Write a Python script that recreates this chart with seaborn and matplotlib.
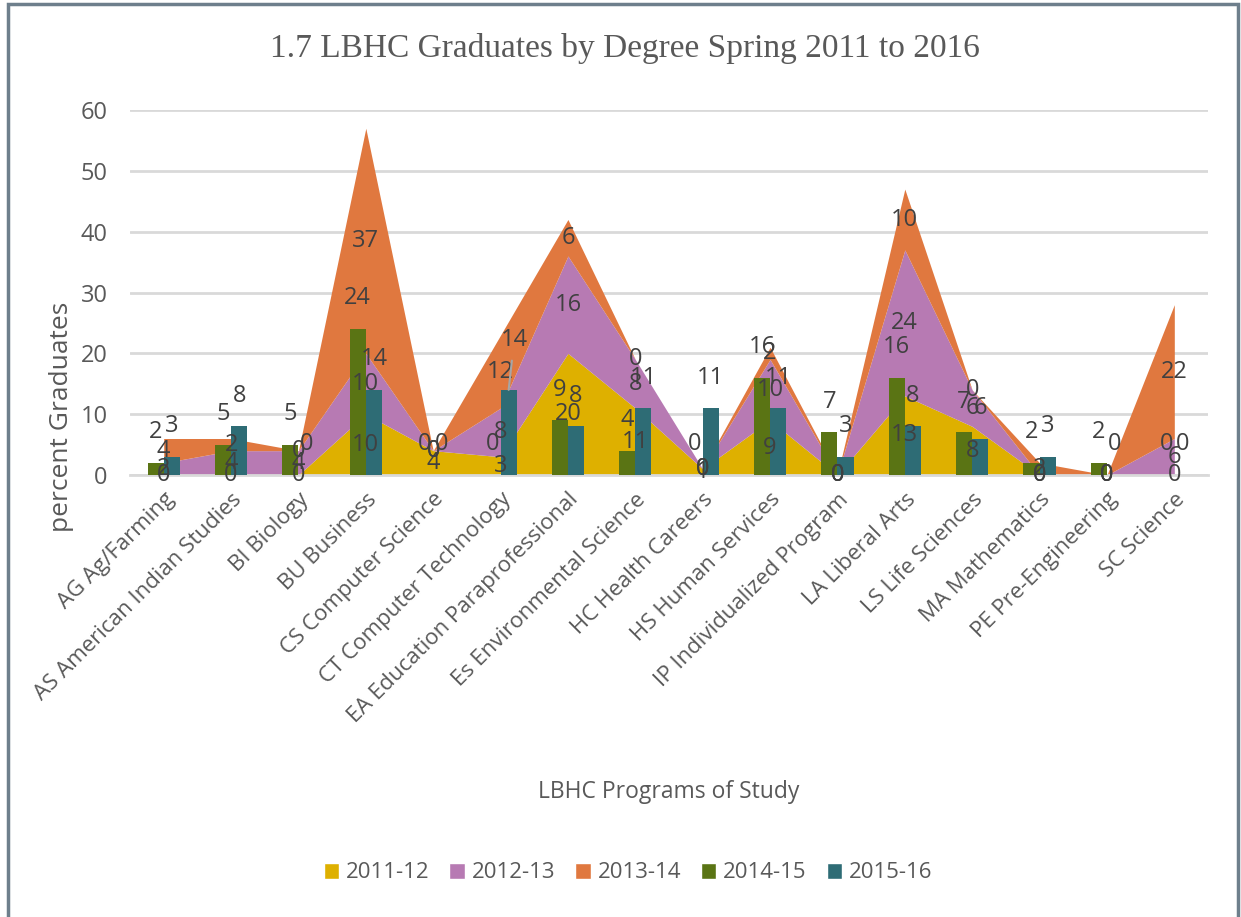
import matplotlib
matplotlib.use("Agg")
import matplotlib.pyplot as plt
import seaborn as sns
import numpy as np
import pandas as pd
from matplotlib.patches import Patch, Rectangle

programs = ["AG Ag/Farming", "AS American Indian Studies", "BI Biology", "BU Business",
            "CS Computer Science", "CT Computer Technology", "EA Education Paraprofessional",
            "Es Environmental Science", "HC Health Careers", "HS Human Services",
            "IP Individualized Program", "LA Liberal Arts", "LS Life Sciences",
            "MA Mathematics", "PE Pre-Engineering", "SC Science"]

# stacked area series
y2011_12 = [0, 0, 0, 10, 4, 3, 20, 11, 1, 9, 0, 13, 8, 0, 0, 0]
y2012_13 = [2, 4, 4, 10, 0, 8, 16, 8, 0, 10, 0, 24, 6, 0, 0, 6]
y2013_14 = [4, 2, 0, 37, 0, 12, 6, 0, 0, 2, 0, 10, 0, 2, 0, 22]
# bar series
y2014_15 = [2, 5, 5, 24, 0, 0, 9, 4, 0, 16, 7, 16, 7, 2, 2, 0]
y2015_16 = [3, 8, 0, 14, 0, 14, 8, 11, 11, 11, 3, 8, 6, 3, 0, 0]

area_years = ["2011-12", "2012-13", "2013-14"]
bar_years = ["2014-15", "2015-16"]
colors = {"2011-12": "#DEB000", "2012-13": "#B77AB3", "2013-14": "#E0783F",
          "2014-15": "#5A7414", "2015-16": "#2E6C75"}

sns.set_theme(style="white")
plt.rcParams["font.family"] = ["Open Sans", "DejaVu Sans"]

fig = plt.figure(figsize=(12.41, 9.17), dpi=100)
ax = fig.add_axes([130 / 1241, 1 - 475 / 917, 1078 / 1241, 365 / 917])

x = np.arange(len(programs))
areas = [y2011_12, y2012_13, y2013_14]
ax.stackplot(x, *areas, colors=[colors[y] for y in area_years], zorder=1, linewidth=0)

bars_df = pd.DataFrame({
    "program": programs * 2,
    "graduates": y2014_15 + y2015_16,
    "year": ["2014-15"] * len(programs) + ["2015-16"] * len(programs),
})
sns.barplot(data=bars_df, x="program", y="graduates", hue="year",
            palette=[colors[y] for y in bar_years], width=0.48, dodge=True,
            saturation=1, legend=False, ax=ax, zorder=3, linewidth=0, edgecolor="none")

ax.set_xlim(-0.5, len(programs) - 0.5)
ax.set_ylim(0, 60)
ax.set_yticks(range(0, 61, 10))
ax.yaxis.grid(True, color="#D9D9D9", linewidth=2)
ax.set_axisbelow(True)
for s in ["top", "right", "left"]:
    ax.spines[s].set_visible(False)
ax.spines["bottom"].set_color("#D9D9D9")
ax.spines["bottom"].set_linewidth(2)
ax.tick_params(axis="both", length=0, colors="#595959")
ax.tick_params(axis="y", pad=16, labelsize=17)
ax.set_xticks(x)
ax.set_xticklabels(programs, rotation=45, ha="right", rotation_mode="anchor", fontsize=16)
ax.tick_params(axis="x", pad=10)
ax.set_xlabel("")
ax.set_ylabel("")

# data labels
lab = dict(fontsize=17, color="#404040", ha="center", va="center", zorder=5)
bottom = np.zeros(len(programs))
for vals in areas:
    for i, v in enumerate(vals):
        ax.text(i, bottom[i] + v / 2, str(v), **lab)
    bottom += np.array(vals)
for off, vals in zip([-0.12, 0.12], [y2014_15, y2015_16]):
    for i, v in enumerate(vals):
        if off > 0 and programs[i].startswith("CT "):
            # this label was dragged up in the original, with a leader line
            ax.annotate(str(v), (i + off, v), xytext=(4, 36), textcoords="offset points",
                        arrowprops=dict(arrowstyle="-", color="#A6A6A6", lw=1.5,
                                        shrinkA=4, shrinkB=0), **lab)
        else:
            ax.annotate(str(v), (i + off, v), xytext=(0, 22), textcoords="offset points", **lab)

fig.text(625 / 1241, 1 - 48 / 917, "1.7 LBHC Graduates by Degree Spring 2011 to 2016",
         family="Liberation Serif", fontsize=24, color="#595959", ha="center", va="center")
fig.text(62 / 1241, 1 - 417 / 917, "percent Graduates", rotation=90, fontsize=19,
         color="#595959", ha="center", va="center")
fig.text(669 / 1241, 1 - 792 / 917, "LBHC Programs of Study", fontsize=16.5,
         color="#595959", ha="center", va="center")

handles = [Patch(facecolor=colors[y], label=y) for y in area_years + bar_years]
fig.legend(handles=handles, loc="center", bbox_to_anchor=(628 / 1241, 1 - 873 / 917),
           ncol=5, frameon=False, fontsize=16, handlelength=0.7, handleheight=0.7,
           handletextpad=0.3, columnspacing=0.9, labelcolor="#595959")

fig.patches.append(Rectangle((8 / 1241, -0.02), 1230 / 1241, 1.02 - 4 / 917,
                             transform=fig.transFigure, fill=False,
                             edgecolor="#6E7F8C", linewidth=2.5))

fig.savefig("out.png", dpi=100)
